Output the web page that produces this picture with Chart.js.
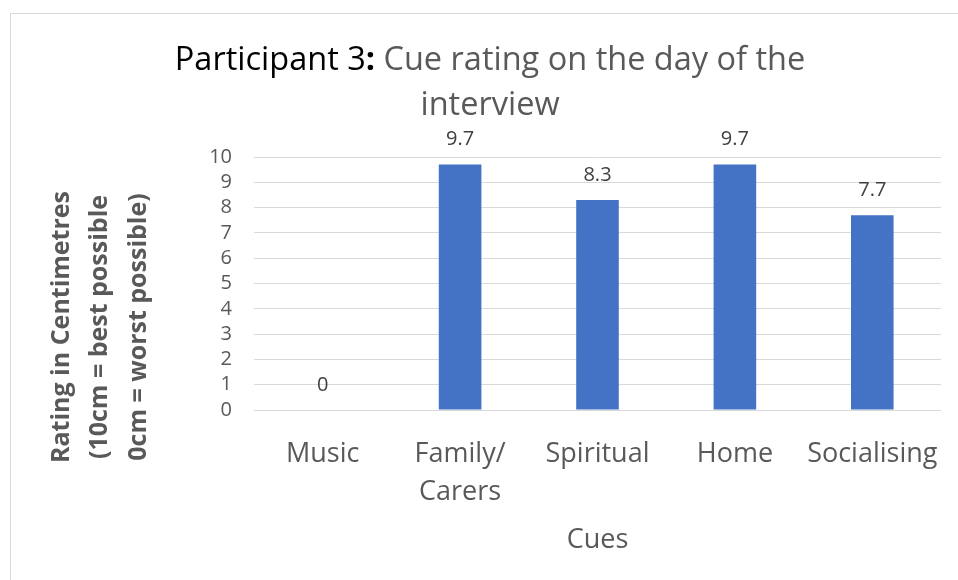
<!DOCTYPE html>
<html>
<head>
<meta charset="utf-8">
<script src="https://cdn.jsdelivr.net/npm/chart.js@4/dist/chart.umd.min.js"></script>
<style>
  html, body { margin: 0; padding: 0; background: #ffffff; overflow: hidden; }
  #wrap { position: relative; width: 958px; height: 580px; }
  #frame { position: absolute; left: 10px; top: 13px; width: 980px; height: 600px; border: 1px solid #d9d9d9; box-sizing: border-box; }
  canvas { position: absolute; left: 0; top: 0; }
</style>
</head>
<body>
<div id="wrap">
  <div id="frame"></div>
  <canvas id="c" width="958" height="580"></canvas>
</div>
<script>
const categories = [["Music"], ["Family/", "Carers"], ["Spiritual"], ["Home"], ["Socialising"]];
const ratings = [0, 9.7, 8.3, 9.7, 7.7];
const yTicks = [0, 1, 2, 3, 4, 5, 6, 7, 8, 9, 10];
const titleParts = [
  { text: "Participant 3", color: "#000000", bold: false },
  { text: ":", color: "#000000", bold: true },
  { text: " Cue rating on the day of the", color: "#595959", bold: false }
];
const titleLine2 = "interview";
const yTitleLines = ["Rating in Centimetres", "(10cm = best possible", "0cm = worst possible)"];
const xTitle = "Cues";

const FONT = "'Open Sans', sans-serif";

const annotate = {
  id: 'annotate',
  afterDatasetsDraw(chart) {
    const ctx = chart.ctx;
    const meta = chart.getDatasetMeta(0);
    ctx.save();
    ctx.font = "20px " + FONT;
    ctx.fillStyle = "#404040";
    ctx.textAlign = "center";
    ctx.textBaseline = "middle";
    meta.data.forEach((bar, i) => {
      ctx.fillText(String(ratings[i]), bar.x, bar.y - 25);
    });
    ctx.restore();
  },
  afterDraw(chart) {
    const ctx = chart.ctx;
    ctx.save();
    const size = 32.5;
    const fontFor = (b) => (b ? "bold " : "") + size + "px " + FONT;
    let total = 0;
    titleParts.forEach(p => { ctx.font = fontFor(p.bold); total += ctx.measureText(p.text).width; });
    const cx = 490;
    let x = cx - total / 2;
    ctx.textBaseline = "alphabetic";
    ctx.textAlign = "left";
    titleParts.forEach(p => {
      ctx.font = fontFor(p.bold);
      ctx.fillStyle = p.color;
      ctx.fillText(p.text, x, 70);
      x += ctx.measureText(p.text).width;
    });
    ctx.font = fontFor(false);
    ctx.fillStyle = "#595959";
    ctx.textAlign = "center";
    ctx.fillText(titleLine2, cx, 115);

    ctx.font = "bold 25px " + FONT;
    ctx.fillStyle = "#595959";
    const xs = [62, 100, 139];
    yTitleLines.forEach((t, i) => {
      ctx.save();
      ctx.translate(xs[i], 327);
      ctx.rotate(-Math.PI / 2);
      ctx.textAlign = "center";
      ctx.textBaseline = "middle";
      ctx.fillText(t, 0, 0);
      ctx.restore();
    });
    ctx.restore();
  }
};

new Chart(document.getElementById('c'), {
  type: 'bar',
  data: {
    labels: categories,
    datasets: [{
      data: ratings,
      backgroundColor: '#4472C4',
      borderWidth: 0,
      barPercentage: 0.31,
      categoryPercentage: 1.0
    }]
  },
  options: {
    responsive: false,
    animation: false,
    devicePixelRatio: 1,
    layout: { padding: { top: 157, right: 17, bottom: 0, left: 0 } },
    plugins: { legend: { display: false }, tooltip: { enabled: false }, title: { display: false } },
    scales: {
      x: {
        grid: { display: false, drawTicks: false },
        border: { display: false },
        ticks: { color: '#595959', font: { family: FONT, size: 27, lineHeight: 1.42 }, padding: 25, maxRotation: 0, autoSkip: false },
        title: { display: true, text: xTitle, color: '#595959', font: { family: FONT, size: 27, lineHeight: 1.2 }, padding: { top: 0, bottom: 23 } },
        afterFit(s) { s.height = 170; s.paddingLeft = 0; s.paddingRight = 0; }
      },
      y: {
        min: 0, max: 10,
        afterBuildTicks(s) { s.ticks = yTicks.map(v => ({ value: v })); },
        grid: { color: '#d9d9d9', lineWidth: 1, drawTicks: false },
        border: { display: false },
        ticks: { color: '#595959', font: { family: FONT, size: 20 }, padding: 22, autoSkip: false },
        afterFit(s) { s.width = 254; s.paddingTop = 0; s.paddingBottom = 0; }
      }
    }
  },
  plugins: [annotate]
});
</script>
</body>
</html>
